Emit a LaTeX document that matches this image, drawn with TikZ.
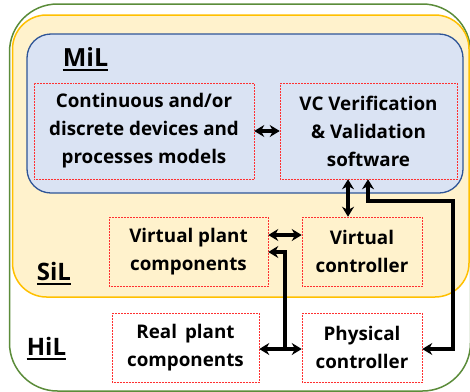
\documentclass[tikz,border=0pt]{standalone}
\usepackage{fontspec}
\setmainfont{Open Sans}
\usetikzlibrary{arrows.meta,calc}
\definecolor{grn}{HTML}{5B8C3A}
\definecolor{ylwfill}{HTML}{FFF2CC}
\definecolor{ylwline}{HTML}{FFC000}
\definecolor{blufill}{HTML}{DAE3F3}
\definecolor{bluline}{HTML}{2F5597}
\definecolor{redd}{HTML}{FF3030}
\begin{document}
\begin{tikzpicture}[x=1pt,y=-1pt,
  comp/.style={draw=redd,densely dotted,line width=0.5pt,inner sep=0pt,
    font=\fontsize{18.8}{28}\selectfont\bfseries,align=center},
  lvl/.style={font=\fontsize{24}{28}\selectfont\bfseries,inner sep=0pt,anchor=base},
  conn/.style={line width=3.4pt,{Stealth[length=10pt,width=12pt]}-{Stealth[length=10pt,width=12pt]}},
  conn1/.style={line width=3.4pt,-{Stealth[length=10pt,width=12pt]}},
  ulin/.style={line width=2pt}]
\useasboundingbox (0,0) rectangle (470,391);
\fill[white] (0,0) rectangle (470,391);
% level boxes
\draw[grn,line width=1.5pt,rounded corners=48pt] (9.5,4) rectangle (470.5,391);
\draw[ylwline,fill=ylwfill,line width=1.5pt,rounded corners=34pt] (12.5,15) rectangle (469,297);
\draw[bluline,fill=blufill,line width=1.3pt,rounded corners=24pt] (27,34) rectangle (463,193);
% labels
\node[lvl,font=\fontsize{25}{28}\selectfont\bfseries] (mil) at (85.5,66) {MiL};
\draw[ulin] ($(mil.base west)+(0,4)$) -- ($(mil.base east)+(0,4)$);
\node[lvl] (sil) at (54,280) {SiL};
\draw[ulin] ($(sil.base west)+(0,4)$) -- ($(sil.base east)+(0,4)$);
\node[lvl] (hil) at (46.5,355) {HiL};
\draw[ulin] ($(hil.base west)+(0,4)$) -- ($(hil.base east)+(0,4)$);
% components
\node[comp,minimum width=220pt,minimum height=96pt] (mdl) at (144,131) {Continuous and/or\\discrete devices and\\processes models};
\node[comp,minimum width=177pt,minimum height=96pt] (vv) at (368.5,131) {VC Verification\\\& Validation\\software};
\node[comp,minimum width=159pt,minimum height=69pt] (vp) at (188.5,251.5) {Virtual plant\\components};
\node[comp,minimum width=120pt,minimum height=69pt] (vc) at (362,251.5) {Virtual\\controller};
\node[comp,minimum width=147pt,minimum height=69pt] (rp) at (185.5,347.5) {Real\, plant\\components};
\node[comp,minimum width=120pt,minimum height=69pt] (pc) at (362,347.5) {Physical\\controller};
% connector points
\coordinate (j1) at (285,349);
\coordinate (j1t) at (285,252);
\coordinate (r1) at (453,349);
\coordinate (r2) at (453,201);
\coordinate (r3) at (368,201);
% connectors
\draw[conn] (mdl.east) -- (vv.west);
\draw[conn] (vp.east |- 0,235) -- (vc.west |- 0,235);
\draw[conn] (vv.south -| 348,0) -- (vc.north -| 348,0);
\draw[conn] (rp.east |- j1) -- (pc.west |- j1);
\draw[conn1,line join=miter] (j1) -- (j1t) -- (vp.east |- j1t);
\draw[conn,line join=miter] (pc.east |- r1) -- (r1) -- (r2) -- (r3) -- (vv.south -| r3);
\end{tikzpicture}
\end{document}
